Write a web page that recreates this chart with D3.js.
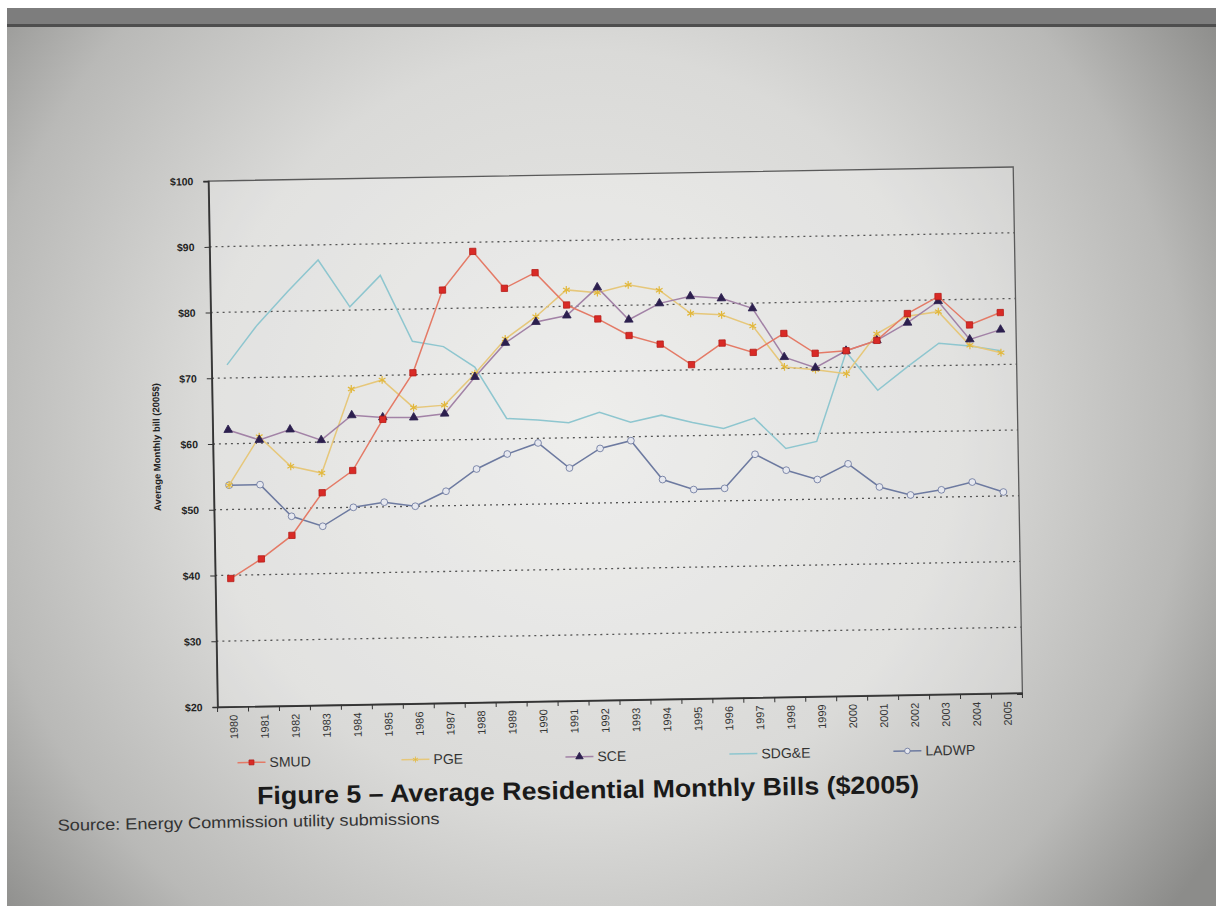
<!DOCTYPE html>
<html>
<head>
<meta charset="utf-8">
<script src="https://cdn.jsdelivr.net/npm/d3@7"></script>
<style>
body{margin:0;background:#fff;}
svg{display:block;font-family:Arial,"Liberation Sans",sans-serif;}
</style>
</head>
<body>
<div id="chart"></div>
<script>
// values, $2005
var years = ["1980","1981","1982","1983","1984","1985","1986","1987","1988","1989","1990","1991","1992",
             "1993","1994","1995","1996","1997","1998","1999","2000","2001","2002","2003","2004","2005"];

var smud  = [39.5,42.4,45.9,52.3,55.6,63.3,70.3,82.8,88.6,82.9,85.2,80.2,78.0,75.4,74.0,70.8,74.0,72.5,75.3,72.2,72.5,74.0,78.0,80.5,76.1,77.9];
var pge   = [53.7,61.0,56.4,55.3,68.0,69.3,65.0,65.3,70.0,75.2,78.5,82.5,82.0,83.1,82.2,78.6,78.3,76.5,70.2,69.7,69.0,75.0,77.6,78.2,73.0,71.8];
var sce   = [62.1,60.5,62.0,60.3,64.0,63.6,63.5,64.0,69.5,74.6,77.7,78.6,82.8,77.8,80.2,81.2,80.8,79.2,71.7,70.0,72.5,74.0,76.6,79.8,73.9,75.3];
var sdge  = [72.0,78.0,83.0,87.7,80.5,85.2,75.1,74.2,71.0,63.1,62.8,62.3,63.8,62.2,63.2,62.0,61.0,62.5,57.8,58.8,72.3,66.4,70.0,73.4,72.9,72.1];
var ladwp = [53.7,53.7,48.8,47.2,50.0,50.7,50.0,52.2,55.5,57.7,59.3,55.4,58.3,59.4,53.4,51.8,51.9,57.0,54.5,53.0,55.3,51.7,50.4,51.1,52.2,50.6];

var yTicks = [20,30,40,50,60,70,80,90,100];
var gridTicks = [30,40,50,60,70,80,90];

var legendNames = ["SMUD","PGE","SCE","SDG&E","LADWP"];

var series = [
	{name:"SDG&E", values:sdge,  line:"#8ec6cf", symbol:null},
	{name:"LADWP", values:ladwp, line:"#6d7aa0", symbol:d3.symbolCircle,   fill:"#e6e8ef", stroke:"#66739a", size:36},
	{name:"PGE",   values:pge,   line:"#e6c77a", symbol:d3.symbolAsterisk, fill:"none",    stroke:"#e2b83c", size:42},
	{name:"SCE",   values:sce,   line:"#a282a6", symbol:d3.symbolTriangle, fill:"#2c1f4e", stroke:"#2c1f4e", size:32},
	{name:"SMUD",  values:smud,  line:"#e47a66", symbol:d3.symbolSquare,   fill:"#d92a26", stroke:"#b51c18", size:40}
];

var W = 1216, H = 906;
var plot = {left:213, right:1018, top:174, bottom:700};

var svg = d3.select("#chart").append("svg")
	.attr("width", W)
	.attr("height", H);

// photo-ish backdrop
var defs = svg.append("defs");
var rg = defs.append("radialGradient").attr("id","bg")
	.attr("gradientUnits","userSpaceOnUse")
	.attr("cx",580).attr("cy",430).attr("r",760);
rg.append("stop").attr("offset","0%").attr("stop-color","#e9e9e7");
rg.append("stop").attr("offset","50%").attr("stop-color","#dadad8");
rg.append("stop").attr("offset","80%").attr("stop-color","#b9b9b7");
rg.append("stop").attr("offset","100%").attr("stop-color","#8c8c8a");

svg.append("rect").attr("x",7).attr("y",8).attr("width",W-7).attr("height",H-8).attr("fill","url(#bg)");
svg.append("rect").attr("x",7).attr("y",8).attr("width",W-7).attr("height",17).attr("fill","#7d7d7d");
svg.append("rect").attr("x",7).attr("y",24).attr("width",W-7).attr("height",3).attr("fill","#4e4e4e");

var g = svg.append("g").attr("transform","rotate(-1 615 445)");

var x = d3.scalePoint().domain(years).range([plot.left, plot.right]).padding(0.5);
var xb = d3.scaleBand().domain(years).range([plot.left, plot.right]);
var y = d3.scaleLinear().domain([20,100]).range([plot.bottom, plot.top]);

// plot area
g.append("rect")
	.attr("x",plot.left).attr("y",plot.top)
	.attr("width",plot.right-plot.left).attr("height",plot.bottom-plot.top)
	.attr("fill","rgba(255,255,255,0.22)")
	.attr("stroke","#5a5a5a").attr("stroke-width",1.3);

// dotted gridlines
g.selectAll(".grid").data(gridTicks).enter().append("line")
	.attr("class","grid")
	.attr("x1",plot.left).attr("x2",plot.right)
	.attr("y1",d => y(d)).attr("y2",d => y(d))
	.attr("stroke","#555").attr("stroke-width",1.3)
	.attr("stroke-dasharray","2,4");

// y axis
var yAxis = g.append("g")
	.attr("transform",`translate(${plot.left},0)`)
	.call(d3.axisLeft(y).tickValues(yTicks).tickFormat(d => "$" + d).tickSize(5).tickPadding(10));
yAxis.select(".domain").attr("stroke","#333").attr("stroke-width",1.6);
yAxis.selectAll("line").attr("stroke","#333");
yAxis.selectAll("text").attr("font-size",10.5).attr("font-weight","bold").attr("fill","#222")
	.attr("font-family","Arial,'Liberation Sans',sans-serif");

g.append("text")
	.attr("transform",`translate(160,${(plot.top+plot.bottom)/2 + 2}) rotate(-90)`)
	.attr("text-anchor","middle")
	.attr("font-size",9.5).attr("font-weight","bold").attr("fill","#222")
	.text("Average Monthly bill (2005$)");

// x axis
var xAxis = g.append("g")
	.attr("transform",`translate(0,${plot.bottom})`)
	.call(d3.axisBottom(x).tickSize(0));
xAxis.select(".domain").attr("stroke","#333").attr("stroke-width",1.6);
xAxis.selectAll("text")
	.attr("transform","rotate(-90)")
	.attr("text-anchor","end")
	.attr("x",-8).attr("y",0).attr("dy","0.35em")
	.attr("font-size",11).attr("fill","#333")
	.attr("font-family","Arial,'Liberation Sans',sans-serif");

// category boundary ticks
g.selectAll(".xtick").data(years.concat(["end"])).enter().append("line")
	.attr("class","xtick")
	.attr("x1",d => d === "end" ? plot.right : xb(d))
	.attr("x2",d => d === "end" ? plot.right : xb(d))
	.attr("y1",plot.bottom).attr("y2",plot.bottom + 5)
	.attr("stroke","#333");

// lines + markers
var line = d3.line()
	.x((d,i) => x(years[i]))
	.y(d => y(d));

series.forEach(s => {
	g.append("path")
		.datum(s.values)
		.attr("fill","none")
		.attr("stroke",s.line)
		.attr("stroke-width",1.5)
		.attr("d",line);
	if (s.symbol) {
		g.selectAll(null).data(s.values).enter().append("path")
			.attr("transform",(d,i) => `translate(${x(years[i])},${y(d)})`)
			.attr("d",d3.symbol().type(s.symbol).size(s.size))
			.attr("fill",s.fill)
			.attr("stroke",s.stroke)
			.attr("stroke-width",s.symbol === d3.symbolAsterisk ? 1.2 : 0.8);
	}
});

// legend
var legend = g.selectAll(".legend").data(legendNames).enter().append("g")
	.attr("class","legend")
	.attr("transform",(d,i) => `translate(${232 + i*164},756)`);
legend.each(function(name){
	var s = series.find(v => v.name === name);
	var lg = d3.select(this);
	lg.append("line").attr("x1",0).attr("x2",28).attr("y1",0).attr("y2",0)
		.attr("stroke",s.line).attr("stroke-width",1.5);
	if (s.symbol) {
		lg.append("path").attr("transform","translate(14,0)")
			.attr("d",d3.symbol().type(s.symbol).size(24))
			.attr("fill",s.fill).attr("stroke",s.stroke).attr("stroke-width",0.8);
	}
	lg.append("text").attr("x",32).attr("y",0).attr("dy","0.35em")
		.attr("font-size",14).attr("fill","#333").text(name);
});

// caption
g.append("text")
	.attr("x",582).attr("y",798)
	.attr("text-anchor","middle")
	.attr("font-size",25).attr("font-weight","bold").attr("fill","#1a1a1a")
	.attr("textLength",662).attr("lengthAdjust","spacingAndGlyphs")
	.text("Figure 5 \u2013 Average Residential Monthly Bills ($2005)");

g.append("text")
	.attr("x",51).attr("y",821)
	.attr("font-size",16).attr("fill","#333")
	.attr("textLength",382).attr("lengthAdjust","spacingAndGlyphs")
	.text("Source: Energy Commission utility submissions");
</script>
</body>
</html>
